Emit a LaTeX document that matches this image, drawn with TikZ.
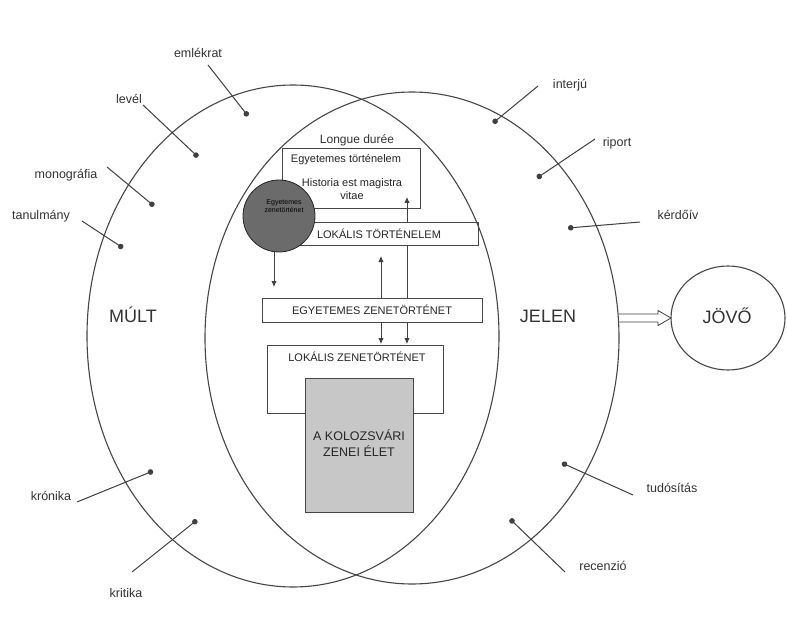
\documentclass[tikz,border=0pt]{standalone}
\usepackage{fontspec}
\setmainfont{Liberation Sans}
\usetikzlibrary{arrows.meta,shapes.geometric}
\begin{document}
\begin{tikzpicture}[x=1pt,y=-1pt,
  ell/.style={ellipse, draw=black!72, line width=1.1pt, inner sep=0pt, outer sep=0pt},
  bx/.style={draw=black!72, line width=0.8pt, inner sep=0pt, outer sep=0pt},
  lbl/.style={font=\fontsize{12.5}{14}\selectfont, text=black!80, inner sep=1pt},
  big/.style={font=\fontsize{18}{20}\selectfont, text=black!80, inner sep=0pt},
  boxtxt/.style={font=\fontsize{11}{13}\selectfont, text=black!85, inner sep=0pt},
  dotline/.style={draw=black!75, line width=1pt, -{Circle[length=5.5pt]}},
  conn/.style={draw=black!75, line width=0.9pt},
  tipped/.style={-{Latex[length=6pt,width=5.5pt]}}
]
\useasboundingbox[fill=white] (0,0) rectangle (787,631);

% big ellipses
\node[ell, minimum width=412pt, minimum height=502pt] (multell) at (293,336) {};
\node[ell, minimum width=414pt, minimum height=492pt] (jelenell) at (412,338) {};
\node[ell, minimum width=114pt, minimum height=104pt] (jovo) at (728,318) {};

\node[big, anchor=base] (mult) at (133,322) {MÚLT};
\node[big, anchor=base] (jelen) at (548,322) {JELEN};
\node[big, anchor=base] (jovot) at (727,323) {JÖVŐ};

% hollow block arrow JELEN -> JÖVŐ
\coordinate (as) at (jovo.west -| jelenell.east);
\draw[draw=black!75, line width=0.8pt, fill=white, line join=miter]
  (as) ++(0,-4) -- ++(39,0) -- ++(0,-3.5) -- (jovo.west)
  -- ++(-13,7.5) -- ++(0,-3.5) -- ++(-39,0);

% boxes
\node[lbl, font=\fontsize{12}{14}\selectfont] (longue) at (357,140) {Longue durée};
\node[bx, minimum width=138pt, minimum height=60pt] (tb) at (351,178) {};
\node[boxtxt] (tb1) at (346,160) {Egyetemes történelem};
\node[boxtxt, align=center] (tb2) at (352,189) {Historia est magistra\\vitae};

\node[bx, minimum width=198pt, minimum height=23pt] (lokt) at (379,233.5) {};
\node[boxtxt] (loktt) at (379,233.5) {LOKÁLIS TÖRTÉNELEM};

\node[bx, minimum width=220pt, minimum height=24pt] (ez) at (372,310) {};
\node[boxtxt] (ezt) at (372,310) {EGYETEMES ZENETÖRTÉNET};

\node[bx, minimum width=176pt, minimum height=68pt] (lz) at (355,379) {};
\node[boxtxt] (lzt) at (357,357) {LOKÁLIS ZENETÖRTÉNET};

\node[bx, fill=black!22, minimum width=108pt, minimum height=134pt] (kol) at (359,445) {};
\node[boxtxt, align=center, font=\fontsize{12.5}{16}\selectfont] (kolt) at (359,443) {A KOLOZSVÁRI\\ZENEI ÉLET};

% circle
\node[circle, draw=black!85, line width=0.8pt, fill=black!58, minimum size=72pt, inner sep=0pt, outer sep=0pt] (circ) at (279,216) {};
\node[align=center, font=\fontsize{7}{8.5}\selectfont, text=black, inner sep=0pt] (circt) at (284,206) {Egyetemes\\zenetörténet};

% connectors between boxes
\coordinate (cdown) at (274,287);
\draw[conn, tipped] (circ.south -| cdown) -- (cdown);

\coordinate (upA) at (407,197);
\draw[conn, tipped] (lokt.north -| upA) -- (upA);
\draw[conn] (ez.north -| upA) -- (lokt.south -| upA);
\coordinate (dnA) at (407,344);
\draw[conn, tipped] (ez.south -| dnA) -- (dnA);

\coordinate (upB) at (381,256);
\draw[conn, tipped] (ez.north -| upB) -- (upB);
\coordinate (dnB) at (381,344);
\draw[conn, tipped] (ez.south -| dnB) -- (dnB);

% outer labels
\node[lbl] (emlekrat) at (198,53) {emlékrat};
\node[lbl] (level) at (129,99) {levél};
\node[lbl] (monografia) at (66,175) {monográfia};
\node[lbl] (tanulmany) at (41,216) {tanulmány};
\node[lbl] (interju) at (570,85) {interjú};
\node[lbl] (riport) at (617,143) {riport};
\node[lbl] (kerdoiv) at (678,215) {kérdőív};
\node[lbl] (kronika) at (51,496) {krónika};
\node[lbl] (kritika) at (126,593) {kritika};
\node[lbl] (tudositas) at (672,488) {tudósítás};
\node[lbl] (recenzio) at (603,566) {recenzió};

\coordinate (s1) at (208,65);  \coordinate (e1) at (248,116);
\coordinate (s2) at (143,105); \coordinate (e2) at (198,157);
\coordinate (s3) at (107,167); \coordinate (e3) at (154,206);
\coordinate (s4) at (82,221);  \coordinate (e4) at (123,248);
\coordinate (s5) at (538,86);  \coordinate (e5) at (493,123);
\coordinate (s6) at (595,139); \coordinate (e6) at (537,178);
\coordinate (s7) at (640,222); \coordinate (e7) at (568,228);
\coordinate (s8) at (77,502);  \coordinate (e8) at (153,471);
\coordinate (s9) at (132,572); \coordinate (e9) at (197,520);
\coordinate (s10) at (633,495); \coordinate (e10) at (562,463);
\coordinate (s11) at (565,572); \coordinate (e11) at (510,519);
\foreach \i in {1,...,11} { \draw[dotline] (s\i) -- (e\i); }
\end{tikzpicture}
\end{document}
